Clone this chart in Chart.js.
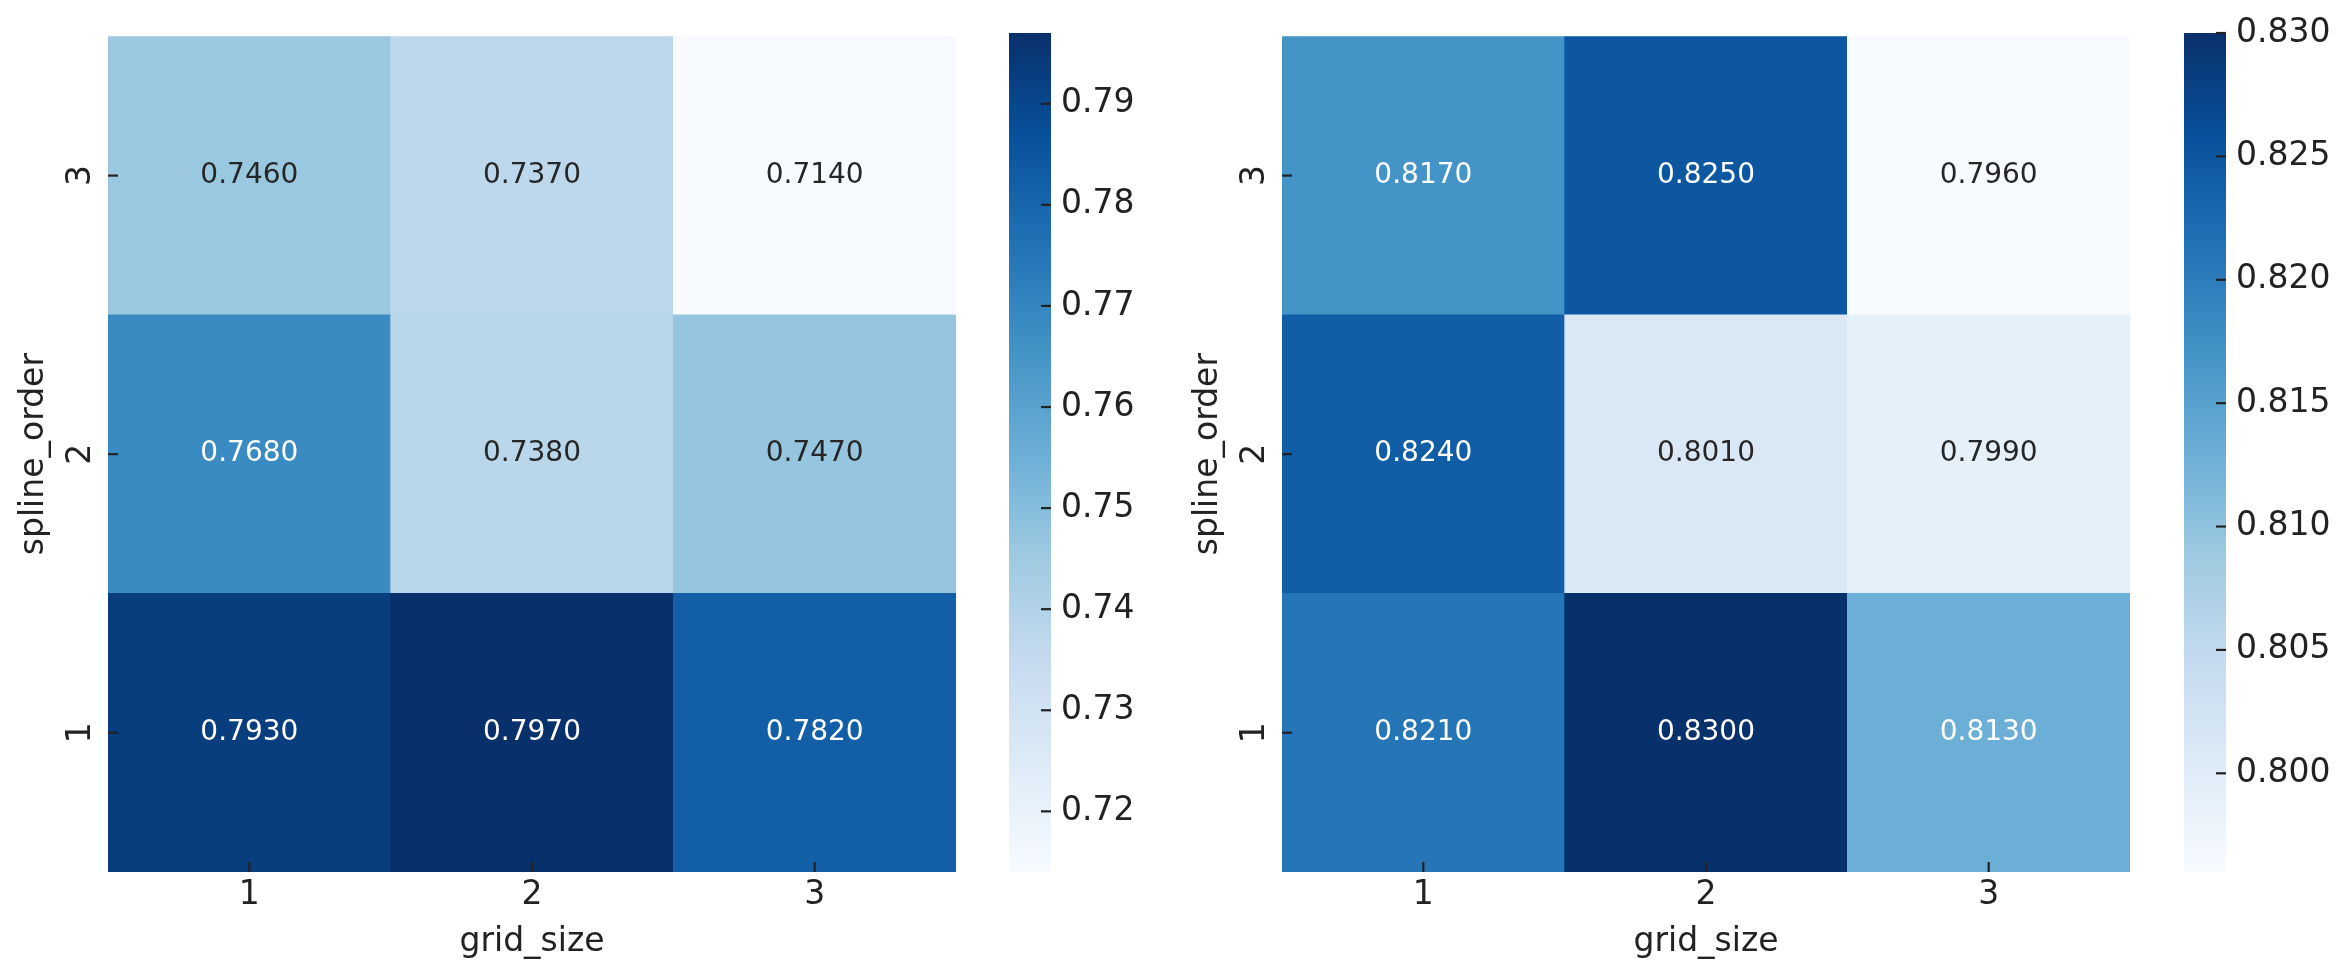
<!DOCTYPE html>
<html>
<head>
<meta charset="utf-8">
<script src="https://cdn.jsdelivr.net/npm/chart.js@4.4.1/dist/chart.umd.min.js"></script>
<style>
  html, body { margin: 0; padding: 0; background: #fff; }
  #wrap { position: relative; width: 2351px; height: 980px; }
  canvas { position: absolute; top: 0; }
</style>
</head>
<body>
<div id="wrap">
  <canvas id="heatLeft" width="1000" height="980" style="left:0px"></canvas>
  <canvas id="barLeft" width="160" height="980" style="left:1000px"></canvas>
  <canvas id="heatRight" width="1000" height="980" style="left:1174px"></canvas>
  <canvas id="barRight" width="176" height="980" style="left:2175px"></canvas>
</div>
<script>
// columns = grid_size, one array per spline_order
var gridSizes = ['1', '2', '3'];
var splineOrders = [1, 2, 3];

var leftOrder1 = [0.793, 0.797, 0.782];
var leftOrder2 = [0.768, 0.738, 0.747];
var leftOrder3 = [0.746, 0.737, 0.714];

var rightOrder1 = [0.821, 0.830, 0.813];
var rightOrder2 = [0.824, 0.801, 0.799];
var rightOrder3 = [0.817, 0.825, 0.796];

var leftBarTicks = [0.72, 0.73, 0.74, 0.75, 0.76, 0.77, 0.78, 0.79];
var rightBarTicks = [0.800, 0.805, 0.810, 0.815, 0.820, 0.825, 0.830];

Chart.defaults.font.family = '"DejaVu Sans", sans-serif';
Chart.defaults.color = '#222';

// matplotlib "Blues"
var blues = ['#f7fbff', '#deebf7', '#c6dbef', '#9ecae1', '#6baed6', '#4292c6', '#2171b5', '#08519c', '#08306b'];
var bluesRgb = blues.map(function (h) {
  return [parseInt(h.substr(1, 2), 16), parseInt(h.substr(3, 2), 16), parseInt(h.substr(5, 2), 16)];
});

function blueAt(t) {
  t = Math.max(0, Math.min(1, t));
  var s = t * (bluesRgb.length - 1);
  var i = Math.min(Math.floor(s), bluesRgb.length - 2);
  var f = s - i;
  var a = bluesRgb[i], b = bluesRgb[i + 1];
  return [0, 1, 2].map(function (k) { return Math.round(a[k] + (b[k] - a[k]) * f); });
}

function rgbStr(c) { return 'rgb(' + c[0] + ',' + c[1] + ',' + c[2] + ')'; }

// same rule as seaborn for annotation colour
function textColorFor(c) {
  var lin = c.map(function (v) {
    v = v / 255;
    return v <= 0.03928 ? v / 12.92 : Math.pow((v + 0.055) / 1.055, 2.4);
  });
  var lum = 0.2126 * lin[0] + 0.7152 * lin[1] + 0.0722 * lin[2];
  return lum > 0.408 ? '#262626' : '#ffffff';
}

var cellText = {
  id: 'cellText',
  afterDatasetsDraw: function (chart) {
    var ctx = chart.ctx;
    ctx.save();
    ctx.font = '28px "DejaVu Sans"';
    ctx.textAlign = 'center';
    ctx.textBaseline = 'middle';
    chart.data.datasets.forEach(function (ds, i) {
      chart.getDatasetMeta(i).data.forEach(function (bar, j) {
        ctx.fillStyle = ds.textColors[j];
        ctx.fillText(ds.values[j].toFixed(4), bar.x, (bar.y + bar.base) / 2);
      });
    });
    ctx.restore();
  }
};

// short tick marks drawn inward, like the reference
var innerTicks = {
  id: 'innerTicks',
  afterDraw: function (chart, args, opts) {
    var ctx = chart.ctx, a = chart.chartArea;
    ctx.save();
    ctx.strokeStyle = '#222';
    ctx.lineWidth = 2.2;
    (opts.axes || []).forEach(function (id) {
      var s = chart.scales[id];
      s.ticks.forEach(function (t, k) {
        var p = s.getPixelForTick(k);
        ctx.beginPath();
        if (s.position === 'bottom') { ctx.moveTo(p, a.bottom); ctx.lineTo(p, a.bottom - 10); }
        else if (s.position === 'left') { ctx.moveTo(a.left, p); ctx.lineTo(a.left + 10, p); }
        else { ctx.moveTo(a.right, p); ctx.lineTo(a.right - 10, p); }
        ctx.stroke();
      });
    });
    ctx.restore();
  }
};

function makeHeatmap(id, rows) {
  var all = [].concat.apply([], rows);
  var vmin = Math.min.apply(null, all), vmax = Math.max.apply(null, all);
  var datasets = rows.map(function (vals, r) {
    var cols = vals.map(function (v) { return blueAt((v - vmin) / (vmax - vmin)); });
    return {
      data: vals.map(function () { return [splineOrders[r] - 0.5, splineOrders[r] + 0.5]; }),
      values: vals,
      backgroundColor: cols.map(rgbStr),
      textColors: cols.map(textColorFor),
      borderWidth: 0,
      grouped: false,
      barPercentage: 1,
      categoryPercentage: 1
    };
  });
  new Chart(document.getElementById(id), {
    type: 'bar',
    data: { labels: gridSizes, datasets: datasets },
    plugins: [cellText, innerTicks],
    options: {
      responsive: false,
      animation: false,
      devicePixelRatio: 1,
      layout: { padding: { top: 33, right: 44, left: 0, bottom: 0 } },
      plugins: {
        legend: { display: false },
        tooltip: { enabled: false },
        innerTicks: { axes: ['x', 'y'] }
      },
      scales: {
        x: {
          grid: { display: false, drawTicks: false },
          border: { display: false },
          ticks: { font: { size: 33 }, padding: 4 },
          title: { display: true, text: 'grid_size', font: { size: 33 }, padding: { top: 0, bottom: 18 } },
          afterFit: function (s) { s.height = 108; }
        },
        y: {
          type: 'linear',
          min: 0.5,
          max: 3.5,
          grid: { display: false, drawTicks: false },
          border: { display: false },
          afterBuildTicks: function (s) { s.ticks = splineOrders.map(function (v) { return { value: v }; }); },
          ticks: {
            font: { size: 33 },
            padding: 16.5,
            minRotation: 90,
            maxRotation: 90,
            crossAlign: 'center',
            callback: function (v) { return String(v); }
          },
          title: { display: true, text: 'spline_order', font: { size: 33 }, padding: { top: 15, bottom: 0 } },
          afterFit: function (s) { s.width = 108; }
        }
      }
    }
  });
  return [vmin, vmax];
}

function makeColorbar(id, range, ticks, decimals, width) {
  var vmin = range[0], vmax = range[1];
  new Chart(document.getElementById(id), {
    type: 'bar',
    data: {
      labels: [''],
      datasets: [{
        data: [[vmin, vmax]],
        borderWidth: 0,
        barPercentage: 1,
        categoryPercentage: 1,
        backgroundColor: function (c) {
          var chart = c.chart;
          if (!chart.chartArea) return null;
          var y = chart.scales.y;
          var g = chart.ctx.createLinearGradient(0, y.getPixelForValue(vmin), 0, y.getPixelForValue(vmax));
          blues.forEach(function (h, i) { g.addColorStop(i / (blues.length - 1), h); });
          return g;
        }
      }]
    },
    plugins: [innerTicks],
    options: {
      responsive: false,
      animation: false,
      devicePixelRatio: 1,
      layout: { padding: { left: 9, top: 33, bottom: 108, right: 0 } },
      plugins: {
        legend: { display: false },
        tooltip: { enabled: false },
        innerTicks: { axes: ['y'] }
      },
      scales: {
        x: { display: false },
        y: {
          position: 'right',
          min: vmin,
          max: vmax,
          grid: { display: false, drawTicks: false },
          border: { display: false },
          afterBuildTicks: function (s) { s.ticks = ticks.map(function (v) { return { value: v }; }); },
          ticks: {
            font: { size: 33 },
            padding: 10,
            callback: function (v) { return Number(v).toFixed(decimals); }
          },
          afterFit: function (s) { s.width = width - 51; }
        }
      }
    }
  });
}

var leftRange = makeHeatmap('heatLeft', [leftOrder1, leftOrder2, leftOrder3]);
makeColorbar('barLeft', leftRange, leftBarTicks, 2, 160);

var rightRange = makeHeatmap('heatRight', [rightOrder1, rightOrder2, rightOrder3]);
makeColorbar('barRight', rightRange, rightBarTicks, 3, 176);
</script>
</body>
</html>
